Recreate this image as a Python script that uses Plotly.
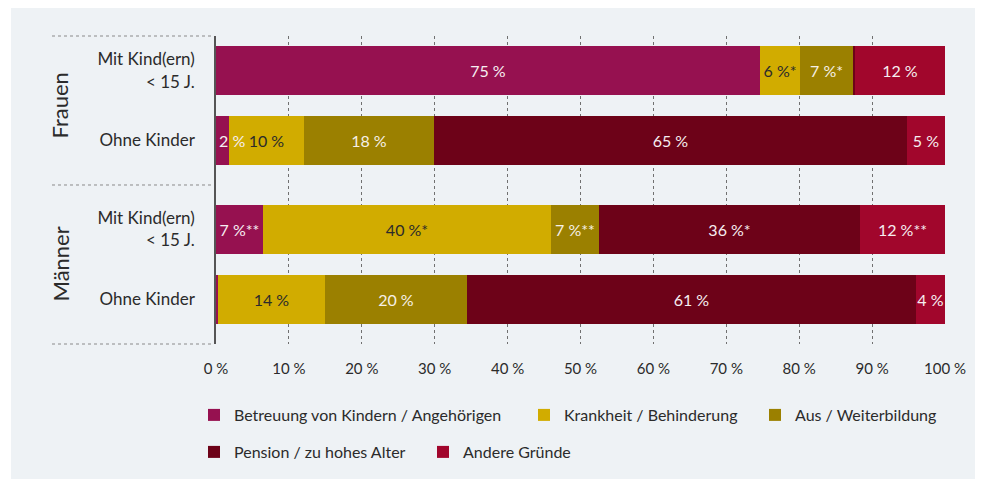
import plotly.graph_objects as go

# ---------------- data ----------------
groups = ["Frauen", "Männer"]
rows = ["Mit Kind(ern)<br>< 15 J.", "Ohne Kinder"]
series = [
    "Betreuung von Kindern / Angehörigen",
    "Krankheit / Behinderung",
    "Aus / Weiterbildung",
    "Pension / zu hohes Alter",
    "Andere Gründe",
]
# order of rows: Frauen-Mit, Frauen-Ohne, Männer-Mit, Männer-Ohne
betreuung = [74.6, 1.8, 6.4, 0.3]
krankheit = [5.5, 10.3, 39.6, 14.6]
ausbildung = [7.3, 17.8, 6.6, 19.5]
pension = [0.2, 64.9, 35.8, 61.6]
andere = [12.4, 5.2, 11.6, 4.0]

betreuung_lbl = ["75 %", "2 %", "7 %**", ""]
krankheit_lbl = ["6 %*", "10 %", "40 %*", "14 %"]
ausbildung_lbl = ["7 %*", "18 %", "7 %**", "20 %"]
pension_lbl = ["", "65 %", "36 %*", "61 %"]
andere_lbl = ["12 %", "5 %", "12 %**", "4 %"]

x_tickvals = [0, 10, 20, 30, 40, 50, 60, 70, 80, 90, 100]
x_ticktext = ["0 %", "10 %", "20 %", "30 %", "40 %", "50 %", "60 %", "70 %", "80 %", "90 %", "100 %"]

# ---------------- styling ----------------
colors = ["#961150", "#D1AC00", "#9B8000", "#6D0218", "#A1062C"]
text_colors = ["#F6EEF2", "#2B2B2B", "#F6F0E6", "#F6EEF0", "#F6EEF0"]
FONT = "Lato, 'Open Sans', sans-serif"
PANEL = "#EEF2F5"
TXT = "#2B2B2B"
BAR_FS = 16

GAP = 0.27
ypos = [g * (len(rows) + GAP) + r for g in range(len(groups)) for r in range(len(rows))]
yticktext = [r for g in groups for r in rows]

values = [betreuung, krankheit, ausbildung, pension, andere]
labels = [betreuung_lbl, krankheit_lbl, ausbildung_lbl, pension_lbl, andere_lbl]

SMALL = 3.0  # segments narrower than this get their label anchored at the segment start

fig = go.Figure()
legend_names = ["legend", "legend2", "legend3", "legend4", "legend5"]
annotations = []
for i, name in enumerate(series):
    txt = []
    for j, (v, lab) in enumerate(zip(values[i], labels[i])):
        if lab and v < SMALL:
            start = sum(values[k][j] for k in range(i))
            annotations.append(dict(text=lab, x=start, xref="x", y=ypos[j], yref="y",
                                    xanchor="left", yanchor="middle", showarrow=False,
                                    xshift=1, font=dict(size=BAR_FS, color=text_colors[i], family=FONT)))
            txt.append("")
        else:
            txt.append(lab)
    fig.add_trace(go.Bar(
        x=values[i], y=ypos, orientation="h", name=name,
        marker=dict(color=colors[i], line=dict(width=0)),
        width=0.7,
        text=txt, textposition="inside", insidetextanchor="middle",
        textangle=0,
        textfont=dict(color=text_colors[i], size=BAR_FS, family=FONT),
        constraintext="none", cliponaxis=False,
        legend=legend_names[i], hoverinfo="x+name",
    ))

# page geometry: the html body has an 8px default margin
OFF = 8
W, H = 983 - OFF, 482 - OFF
# plot area in screenshot pixels: x 216..945, y 36..344
L, R, T, B = 216 - OFF, 983 - 945, 36 - OFF, 482 - 344
pw, ph = W - L - R, H - T - B

def px_x(px):
    return (px - OFF - L) / pw

def px_y(py):
    return (H - B - (py - OFF)) / ph

y_top = -0.493
y_bot = ypos[-1] + 0.636
y_sep = (ypos[1] + ypos[2]) / 2

shapes = [
    dict(type="rect", xref="paper", yref="paper", x0=px_x(11), x1=px_x(976),
         y0=px_y(479), y1=px_y(6), fillcolor=PANEL, line=dict(width=0), layer="below"),
]
for yv, ref in [(1, "paper"), (y_sep, "y"), (0, "paper")]:
    shapes.append(dict(type="line", xref="paper", yref=ref, x0=px_x(52), x1=px_x(214),
                       y0=yv, y1=yv, line=dict(color="#8A8A8A", width=1, dash="dot")))

for g, gname in enumerate(groups):
    yc = (ypos[g * 2] + ypos[g * 2 + 1]) / 2
    annotations.append(dict(text=gname, x=px_x(60), xref="paper", y=yc, yref="y",
                            textangle=-90, showarrow=False, xanchor="center", yanchor="middle",
                            font=dict(size=22, color=TXT, family=FONT)))

legend_pos = [(214, 415), (544, 415), (775, 415), (214, 452), (443, 452)]
legend_layouts = {}
for i, ln in enumerate(legend_names):
    cx, cy = legend_pos[i]
    legend_layouts[ln] = dict(
        x=px_x(cx - 20), y=px_y(cy), xanchor="left", yanchor="middle",
        orientation="h", bgcolor="rgba(0,0,0,0)", borderwidth=0,
        font=dict(size=16, color=TXT, family=FONT), itemclick=False,
    )

fig.update_layout(
    width=W, height=H,
    margin=dict(l=L, r=R, t=T, b=B),
    paper_bgcolor="white", plot_bgcolor="rgba(0,0,0,0)",
    barmode="stack", bargap=0,
    showlegend=True,
    font=dict(family=FONT, color=TXT),
    uniformtext=dict(minsize=BAR_FS, mode="show"),
    shapes=shapes, annotations=annotations,
    xaxis=dict(range=[0, 100.001], tickvals=x_tickvals, ticktext=x_ticktext,
               showgrid=True, griddash="dot", gridcolor="#707070", gridwidth=1,
               zeroline=False, showline=False, ticks="", ticklabelstandoff=14,
               tickfont=dict(size=15, color=TXT, family=FONT), fixedrange=True),
    yaxis=dict(range=[y_bot, y_top], tickvals=ypos, ticktext=yticktext,
               showgrid=False, zeroline=False, showline=True, linecolor="#555555",
               linewidth=1.5, ticks="", ticklabelstandoff=16,
               tickfont=dict(size=17, color=TXT, family=FONT), fixedrange=True),
    **legend_layouts,
)

fig.write_html("out.html")
